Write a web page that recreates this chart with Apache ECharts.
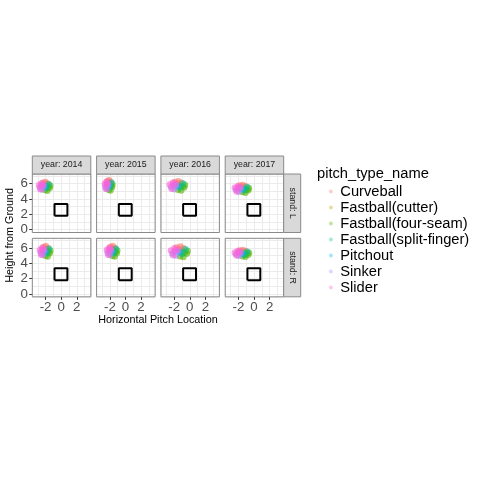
<!DOCTYPE html>
<html><head><meta charset="utf-8">
<script src="https://cdn.jsdelivr.net/npm/echarts@6/dist/echarts.min.js"></script>
<style>html,body{margin:0;padding:0;background:#fff}#c{width:480px;height:480px}</style>
</head><body><div id="c"></div>
<script>
const years = ['2014', '2015', '2016', '2017'];
const stands = ['L', 'R'];
const pitchTypes = ['Curveball', 'Fastball(cutter)', 'Fastball(four-seam)', 'Fastball(split-finger)', 'Pitchout', 'Sinker', 'Slider'];
const colors = ['#F8766D', '#C49A00', '#53B400', '#00C094', '#00B6EB', '#A58AFF', '#FB61D7'];
const xTickValues = [-2, 0, 2];
const yTickValues = [0, 2, 4, 6];
// points: [panel, x, z]; panel = standIndex*4 + yearIndex
const curveball = [
[0,-2.03,6.22],[0,-2.36,6.12],[0,-1.77,6.02],[0,-2.10,5.89],
[1,-2.09,6.46],[1,-2.32,6.35],[1,-1.92,6.23],[1,-2.14,6.07],
[2,-1.46,6.33],[2,-1.91,6.23],[2,-1.11,6.12],[2,-1.56,5.98],
[3,-1.44,5.84],[3,-1.86,5.75],[3,-1.11,5.66],[3,-1.53,5.55],
[4,-1.97,6.24],[4,-2.28,6.13],[4,-1.73,6.01],[4,-2.04,5.85],
[5,-1.63,6.24],[5,-1.94,6.13],[5,-1.39,6.01],[5,-1.70,5.85],
[6,-1.20,6.18],[6,-1.70,6.07],[6,-0.81,5.95],[6,-1.31,5.79],
[7,-1.44,5.75],[7,-1.86,5.67],[7,-1.11,5.59],[7,-1.53,5.49]
];
const cutter = [[0,-1.84,5.66],[1,-1.97,5.80],[2,-1.21,5.74],[3,-1.20,5.34],[4,-1.80,5.58],[5,-1.46,5.58],[6,-0.93,5.52],[7,-1.20,5.31]];
const fourSeam = [
[0,-1.47,5.44],[0,-1.77,5.08],[0,-2.06,5.18],[0,-1.40,5.73],[0,-1.66,5.57],
[1,-1.72,5.53],[1,-1.92,5.10],[1,-2.12,5.21],[1,-1.67,5.88],[1,-1.84,5.68],
[2,-0.71,5.49],[2,-1.11,5.11],[2,-1.51,5.21],[2,-0.61,5.81],[2,-0.96,5.63],
[3,-0.74,5.13],[3,-1.11,4.81],[3,-1.48,4.90],[3,-0.65,5.40],[3,-0.97,5.25],
[4,-1.46,5.31],[4,-1.73,4.88],[4,-2.01,4.99],[4,-1.39,5.66],[4,-1.63,5.46],
[5,-1.12,5.31],[5,-1.39,4.88],[5,-1.67,4.99],[5,-1.05,5.66],[5,-1.29,5.46],
[6,-0.38,5.25],[6,-0.82,4.82],[6,-1.26,4.93],[6,-0.27,5.60],[6,-0.65,5.40],
[7,-0.74,5.12],[7,-1.11,4.84],[7,-1.48,4.92],[7,-0.65,5.36],[7,-0.97,5.23]
];
const splitFinger = [
[0,-1.58,5.92],[0,-1.88,5.44],[1,-1.79,6.11],[1,-1.99,5.53],
[2,-0.86,6.02],[2,-1.26,5.49],[3,-0.88,5.58],[3,-1.25,5.13],
[4,-1.56,5.89],[4,-1.84,5.31],[5,-1.22,5.89],[5,-1.50,5.31],
[6,-0.54,5.83],[6,-0.98,5.25],[7,-0.88,5.51],[7,-1.25,5.12]
];
const pitchout = [[0,-2.10,5.63],[1,-2.14,5.76],[2,-1.56,5.70],[3,-1.53,5.31],[4,-2.04,5.54],[5,-1.70,5.54],[6,-1.31,5.48],[7,-1.53,5.28]];
const sinker = [
[0,-2.73,5.50],[0,-2.43,5.24],[0,-2.25,5.70],[0,-2.47,5.73],
[1,-2.57,5.60],[1,-2.37,5.29],[1,-2.24,5.84],[1,-2.39,5.88],
[2,-2.41,5.56],[2,-2.01,5.28],[2,-1.76,5.77],[2,-2.06,5.81],
[3,-2.32,5.19],[3,-1.95,4.96],[3,-1.72,5.37],[3,-1.99,5.40],
[4,-2.62,5.38],[4,-2.35,5.07],[4,-2.18,5.62],[4,-2.38,5.66],
[5,-2.28,5.38],[5,-2.01,5.07],[5,-1.84,5.62],[5,-2.04,5.66],
[6,-2.25,5.32],[6,-1.81,5.01],[6,-1.53,5.56],[6,-1.86,5.60],
[7,-2.32,5.18],[7,-1.95,4.97],[7,-1.72,5.33],[7,-1.99,5.36]
];
const slider = [
[0,-2.84,5.79],[0,-2.54,6.02],[0,-2.66,5.27],[0,-2.32,5.86],
[1,-2.64,5.96],[1,-2.44,6.23],[1,-2.52,5.33],[1,-2.29,6.03],
[2,-2.56,5.88],[2,-2.16,6.12],[2,-2.31,5.32],[2,-1.86,5.95],
[3,-2.46,5.46],[3,-2.09,5.66],[3,-2.23,4.99],[3,-1.81,5.52],
[4,-2.72,5.74],[4,-2.45,6.01],[4,-2.55,5.11],[4,-2.24,5.81],
[5,-2.38,5.74],[5,-2.11,6.01],[5,-2.21,5.11],[5,-1.90,5.81],
[6,-2.41,5.68],[6,-1.97,5.95],[6,-2.14,5.05],[6,-1.64,5.75],
[7,-2.46,5.41],[7,-2.09,5.59],[7,-2.23,5.01],[7,-1.81,5.46]
];
const strikeZoneX = [-0.85, 0.8];
const strikeZoneZ = [1.8, 3.35];
const xRange = [-3.7, 3.8];
const yRange = [-0.37, 7.26];

const pointSets = [curveball, cutter, fourSeam, splitFinger, pitchout, sinker, slider];

// layout
const FONT = "'Liberation Sans', Arial, sans-serif";
const colLeft = [32.3, 96.6, 160.9, 225.2];
const rowTop = [174, 238.3];
const PW = 58.5, PH = 58.5;
const STRIP_H = 18, RSTRIP_W = 17;

const grids = [], xAxes = [], yAxes = [], series = [], graphics = [];
const gridLineAxis = (i, range) => ({
  type: 'value', gridIndex: i, min: range[0], max: range[1], splitNumber: 4,
  axisLine: {show: false, onZero: false}, axisTick: {show: false}, axisLabel: {show: false},
  splitLine: {show: true, lineStyle: {color: '#EBEBEB', width: 1}},
  minorTick: {show: false, splitNumber: 2},
  minorSplitLine: {show: true, lineStyle: {color: '#EBEBEB', width: 1}}
});
const labelAxis = (i, range, ticks, show, pos) => ({
  type: 'value', gridIndex: i, min: range[0], max: range[1], position: pos, offset: 0,
  axisLine: {show: false, onZero: false},
  axisTick: {show: show, length: 3, lineStyle: {color: '#333'}, customValues: ticks},
  axisLabel: {show: show, color: '#4D4D4D', fontSize: 13.3, fontFamily: FONT, margin: 4.5, customValues: ticks},
  splitLine: {show: false}, minorSplitLine: {show: false}
});
for (let r = 0; r < 2; r++) {
  for (let c = 0; c < 4; c++) {
    const i = r * 4 + c;
    grids.push({left: colLeft[c], top: rowTop[r], width: PW, height: PH, show: true, backgroundColor: '#fff', borderWidth: 0});
    const gx = Object.assign(gridLineAxis(i, xRange), {position: 'bottom'});
    const gy = Object.assign(gridLineAxis(i, yRange), {position: 'left'});
    xAxes.push(gx, labelAxis(i, xRange, xTickValues, r === 1, 'bottom'));
    yAxes.push(gy, labelAxis(i, yRange, yTickValues, c === 0, 'left'));
    pitchTypes.forEach((name, t) => {
      series.push({
        type: 'scatter', name: name, xAxisIndex: 2 * i, yAxisIndex: 2 * i,
        data: pointSets[t].filter(p => p[0] === i).map(p => [p[1], p[2]]),
        symbolSize: 6.5, itemStyle: {color: colors[t], opacity: 0.6}, silent: true
      });
    });
    series.push({
      type: 'line', name: 'zone', xAxisIndex: 2 * i, yAxisIndex: 2 * i, symbol: 'none', silent: true, z: 5,
      data: [[strikeZoneX[0], strikeZoneZ[0]], [strikeZoneX[1], strikeZoneZ[0]], [strikeZoneX[1], strikeZoneZ[1]],
             [strikeZoneX[0], strikeZoneZ[1]], [strikeZoneX[0], strikeZoneZ[0]]],
      lineStyle: {color: '#000', width: 2}
    });
    // panel border
    graphics.push({type: 'rect', z: 100, shape: {x: colLeft[c], y: rowTop[r], width: PW, height: PH},
      style: {fill: 'none', stroke: '#8a8a8a', lineWidth: 1}});
  }
}
// top strips
years.forEach((y, c) => {
  graphics.push({type: 'rect', z: 100, shape: {x: colLeft[c], y: rowTop[0] - STRIP_H, width: PW, height: STRIP_H},
    style: {fill: '#D9D9D9', stroke: '#8a8a8a', lineWidth: 1}});
  graphics.push({type: 'text', z: 101, x: colLeft[c] + PW / 2, y: rowTop[0] - STRIP_H / 2,
    style: {text: 'year: ' + y, fill: '#1A1A1A', font: '8.8px ' + FONT, align: 'center', verticalAlign: 'middle'}});
});
// right strips
stands.forEach((s, r) => {
  const x0 = colLeft[3] + PW;
  graphics.push({type: 'rect', z: 100, shape: {x: x0, y: rowTop[r], width: RSTRIP_W, height: PH},
    style: {fill: '#D9D9D9', stroke: '#8a8a8a', lineWidth: 1}});
  graphics.push({type: 'text', z: 101, x: x0 + RSTRIP_W / 2, y: rowTop[r] + PH / 2, rotation: -Math.PI / 2,
    style: {text: 'stand: ' + s, fill: '#1A1A1A', font: '8.8px ' + FONT, align: 'center', verticalAlign: 'middle'}});
});
// axis titles
graphics.push({type: 'text', x: (colLeft[0] + colLeft[3] + PW) / 2, y: 320.5,
  style: {text: 'Horizontal Pitch Location', fill: '#000', font: '10.8px ' + FONT, align: 'center', verticalAlign: 'middle'}});
graphics.push({type: 'text', x: 10, y: (rowTop[0] + rowTop[1] + PH) / 2, rotation: Math.PI / 2,
  style: {text: 'Height from Ground', fill: '#000', font: '10.8px ' + FONT, align: 'center', verticalAlign: 'middle'}});
// legend title
graphics.push({type: 'text', x: 317, y: 173.5,
  style: {text: 'pitch_type_name', fill: '#000', font: '14.7px ' + FONT, align: 'left', verticalAlign: 'middle'}});

const chart = echarts.init(document.getElementById('c'), null, {renderer: 'canvas'});
chart.setOption({
  animation: false,
  backgroundColor: '#fff',
  grid: grids, xAxis: xAxes, yAxis: yAxes, series: series,
  legend: {
    data: pitchTypes, orient: 'vertical', left: 323.9, top: 178.5,
    itemWidth: 8.8, itemHeight: 4, itemGap: 0, icon: 'circle', selectedMode: false,
    itemStyle: {opacity: 0.35},
    textStyle: {fontSize: 14.7, color: '#000', fontFamily: FONT, lineHeight: 16}
  },
  graphic: graphics
});
</script></body></html>
